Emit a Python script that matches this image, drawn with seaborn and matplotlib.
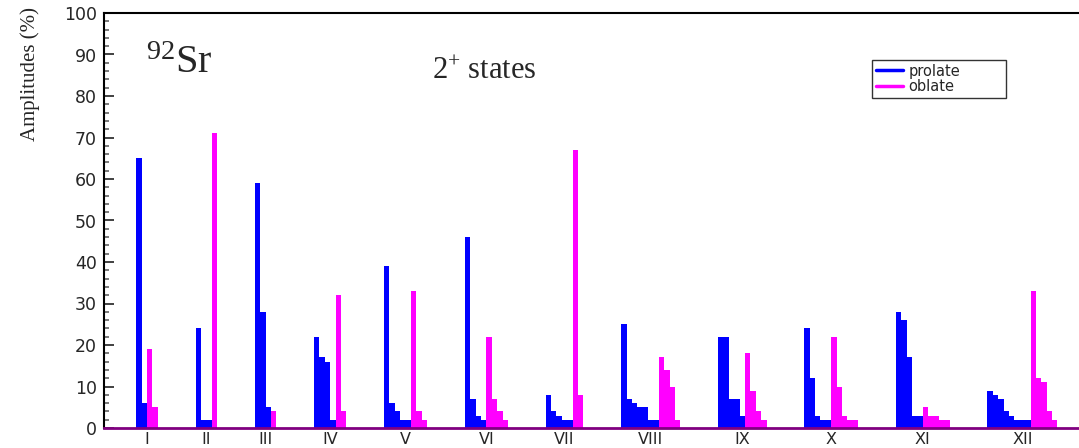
import numpy as np
import pandas as pd
import matplotlib
matplotlib.use("Agg")
import matplotlib.pyplot as plt
from matplotlib.lines import Line2D
import seaborn as sns

# ---------------- data ----------------
state_labels = ["I", "II", "III", "IV", "V", "VI", "VII", "VIII", "IX", "X", "XI", "XII"]

prolate_amps = [
    [65, 6],
    [24, 2, 2],
    [59, 28, 5],
    [22, 17, 16, 2],
    [39, 6, 4, 2, 2],
    [46, 7, 3, 2],
    [8, 4, 3, 2, 2],
    [25, 7, 6, 5, 5, 2, 2],
    [22, 22, 7, 7, 3],
    [24, 12, 3, 2, 2],
    [28, 26, 17, 3, 3],
    [9, 8, 7, 4, 3, 2, 2, 2],
]
oblate_amps = [
    [19, 5],
    [71],
    [4],
    [32, 4],
    [33, 4, 2],
    [22, 7, 4, 2],
    [67, 8],
    [17, 14, 10, 2],
    [18, 9, 4, 2],
    [22, 10, 3, 2, 2],
    [5, 3, 3, 2, 2],
    [33, 12, 11, 4, 2],
]

leading_empty_bins = 6
empty_bins_between = 7
n_bins_shown = 181

# ---------------- build histogram contents ----------------
prolate_full, oblate_full, centers = [], [], []
prolate_full += [0] * leading_empty_bins
oblate_full += [0] * leading_empty_bins
for p, o in zip(prolate_amps, oblate_amps):
    start = len(prolate_full)
    prolate_full += list(p) + [0] * len(o)
    oblate_full += [0] * len(p) + list(o)
    centers.append(start + (len(p) + len(o) - 1) / 2)
    prolate_full += [0] * empty_bins_between
    oblate_full += [0] * empty_bins_between

bins = np.arange(len(prolate_full))
df = pd.DataFrame({"bin": bins, "prolate": prolate_full, "oblate": oblate_full})

# ---------------- figure ----------------
sns.set_style("white")
plt.rcParams["font.family"] = ["DejaVu Sans"]
plt.rcParams["mathtext.fontset"] = "custom"
plt.rcParams["mathtext.rm"] = "Liberation Serif"
plt.rcParams["mathtext.it"] = "Liberation Serif:italic"

W, H = 1079, 448
fig = plt.figure(figsize=(W / 100, H / 100), dpi=100)
ax = fig.add_axes([104 / W, 20 / H, (W - 104) / W, 415 / H])

blue = "#0000ff"
magenta = "#ff00ff"

sns.histplot(data=df, x="bin", weights="prolate", discrete=True, color=blue,
             alpha=1, linewidth=0, ax=ax, stat="count")
sns.histplot(data=df, x="bin", weights="oblate", discrete=True, color=magenta,
             alpha=1, linewidth=0, ax=ax, stat="count")

ax.set_xlim(-0.5, -0.5 + n_bins_shown)
ax.set_ylim(0, 100)

# y ticks
ax.set_yticks(np.arange(0, 101, 10))
ax.set_yticks(np.arange(0, 101, 2), minor=True)
ax.tick_params(axis="y", which="major", direction="in", length=7, width=1.3,
               color="#333333", pad=5, labelsize=12.5, left=True)
ax.tick_params(axis="y", which="minor", direction="in", length=3.5, width=1.1,
               color="#555555", left=True)

# x labels at group centres
ax.set_xticks(centers)
ax.set_xticklabels(state_labels)
ax.tick_params(axis="x", which="both", length=0, pad=3, labelsize=11.5)
ax.set_xlabel("")

ax.set_ylabel("Amplitudes (%)", family="Liberation Serif", fontsize=15)
ax.yaxis.set_label_coords(-0.066, 0.853)

for s in ["left", "top"]:
    ax.spines[s].set_visible(True)
    ax.spines[s].set_color("black")
    ax.spines[s].set_linewidth(1.5)
ax.spines["right"].set_visible(False)
ax.spines["bottom"].set_color("#800080")
ax.spines["bottom"].set_linewidth(2)

# annotations
ax.text(0.043, 0.856, r"$^{\mathrm{92}}$Sr", transform=ax.transAxes,
        family="Liberation Serif", fontsize=29, ha="left", va="baseline")
ax.text(0.336, 0.841, r"2$^{+}$ states", transform=ax.transAxes,
        family="Liberation Serif", fontsize=22, ha="left", va="baseline")

handles = [Line2D([], [], color=blue, lw=2.5), Line2D([], [], color=magenta, lw=2.5)]
leg = ax.legend(handles, ["prolate", "oblate"], loc="upper left",
                bbox_to_anchor=(0.7877, 0.805, 0.1374, 0.082), mode="expand",
                frameon=True, fancybox=False,
                edgecolor="black", fontsize=10.5, handlelength=1.9, handletextpad=0.35,
                borderpad=0.25, labelspacing=0.05, borderaxespad=0)
leg.get_frame().set_linewidth(1.0)

fig.savefig("out.png", dpi=100)
